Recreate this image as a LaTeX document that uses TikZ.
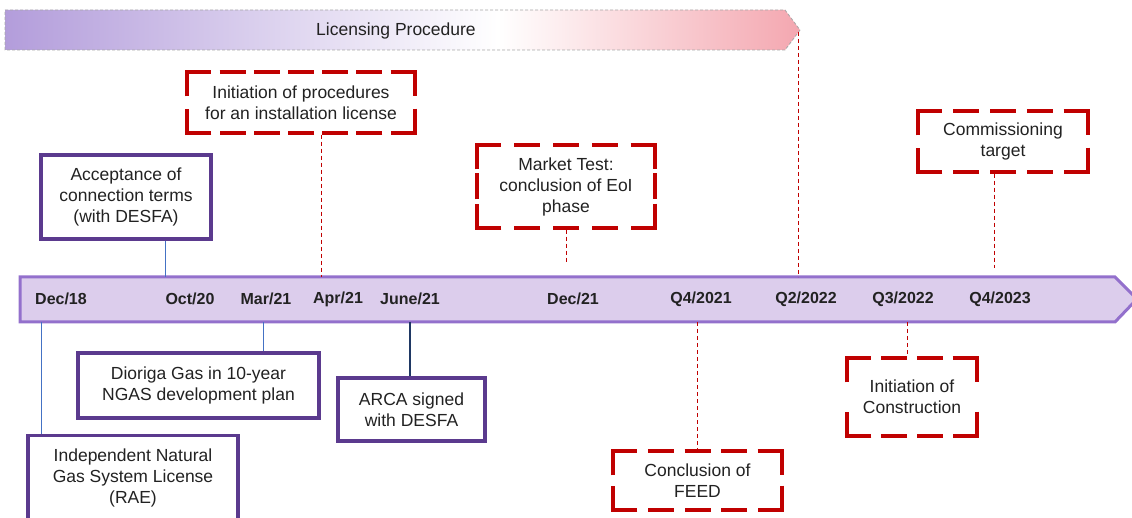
\documentclass[tikz,border=0pt]{standalone}
\usepackage{fontspec}
\setmainfont{Liberation Sans}
\definecolor{bandfill}{HTML}{DCCDEC}
\definecolor{bandline}{HTML}{9370CC}
\definecolor{boxpurple}{HTML}{5B3A8E}
\definecolor{boxred}{HTML}{C00000}
\definecolor{linkblue}{HTML}{4472C4}
\definecolor{linknavy}{HTML}{1F3864}
\definecolor{gradL}{HTML}{B39DDB}
\definecolor{gradR}{HTML}{F4A7B0}
\definecolor{txt}{HTML}{222222}
\pgfdeclarehorizontalshading{licshade}{100bp}{color(0bp)=(gradL); color(25bp)=(gradL); color(56bp)=(white); color(75bp)=(gradR); color(100bp)=(gradR)}
\tikzset{
  solidbox/.style={draw=boxpurple, line width=3.3pt, fill=white, align=center, inner sep=2pt, text=txt, font=\fontsize{17.5}{21}\selectfont},
  redbox/.style={fill=white, align=center, inner sep=2pt, outer sep=0pt, text=txt, font=\fontsize{17.5}{21}\selectfont},
  redside/.style={draw=boxred, line width=3.3pt, line cap=butt},
  datelbl/.style={font=\bfseries\fontsize{16}{18}\selectfont, text=txt, anchor=center},
  bluelink/.style={draw=linkblue, line width=1pt},
  navylink/.style={draw=linknavy, line width=1.3pt},
  redlink/.style={draw=boxred, line width=1pt, dash pattern=on 4pt off 3pt},
}
\newcommand\myrside[3]{%
  \pgfmathsetmacro\myrn{max(1,round(((#3)-26)/37))}%
  \pgfmathsetmacro\myrg{((#3)-(\myrn+1)*26)/\myrn}%
  \draw[redside, dash pattern=on 26pt off \myrg pt] (#1) -- (#2);
}
\newcommand\myredframe[3]{%
  \myrside{[xshift=-1.65pt]#1.north west}{[xshift=1.65pt]#1.north east}{#2+3.3}
  \myrside{[yshift=1.65pt]#1.north east}{[yshift=-1.65pt]#1.south east}{#3+3.3}
  \myrside{[xshift=1.65pt]#1.south east}{[xshift=-1.65pt]#1.south west}{#2+3.3}
  \myrside{[yshift=-1.65pt]#1.south west}{[yshift=1.65pt]#1.north west}{#3+3.3}
}
\begin{document}
\begin{tikzpicture}[x=1pt,y=-1pt]
\useasboundingbox (0,0) rectangle (1132,518);
\begin{scope}
\clip (0,0) rectangle (1132,518);
% licensing banner
\shade[shading=licshade] (5,10) -- (785,10) -- (800,30) -- (785,50) -- (5,50) -- cycle;
\draw[gray!70, line width=0.8pt, dash pattern=on 3pt off 2pt] (5,10) -- (785,10) -- (800,30) -- (785,50) -- (5,50) -- cycle;
\node[font=\fontsize{17.5}{20}\selectfont, text=txt] (lic) at (396,31) {Licensing Procedure};
\coordinate (lictip) at (798,32);
% timeline
\draw[fill=bandfill, draw=bandline, line width=3pt, line join=miter] (20,277) -- (1115,277) -- (1137,299) -- (1115,322) -- (20,322) -- cycle;
\coordinate (tltop) at (0,277);
\coordinate (tlbot) at (0,322);
\node[datelbl] (d1) at (61,299) {Dec/18};
\node[datelbl] (d2) at (190,299) {Oct/20};
\node[datelbl] (d3) at (266,299) {Mar/21};
\node[datelbl] (d4) at (338,299) {Apr/21};
\node[datelbl] (d5) at (410,299) {June/21};
\node[datelbl] (d6) at (573,299) {Dec/21};
\node[datelbl] (d7) at (701,299) {Q4/2021};
\node[datelbl] (d8) at (806,299) {Q2/2022};
\node[datelbl] (d9) at (903,299) {Q3/2022};
\node[datelbl] (d10) at (1000,299) {Q4/2023};
% boxes above
\node[solidbox, minimum width=170pt, minimum height=84pt] (acc) at (126,197) {Acceptance of\\connection terms\\(with DESFA)};
\node[redbox, minimum width=228pt, minimum height=61pt] (init) at (301,102.5) {Initiation of procedures\\for an installation license};
\myredframe{init}{228}{61}
\node[redbox, minimum width=178pt, minimum height=83pt] (mkt) at (566,186.5) {Market Test:\\conclusion of EoI\\phase};
\myredframe{mkt}{178}{83}
\node[redbox, minimum width=170pt, minimum height=61pt] (com) at (1003,141.5) {Commissioning\\target};
\myredframe{com}{170}{61}
% boxes below
\node[solidbox, minimum width=241pt, minimum height=65pt] (dio) at (198.5,385.5) {Dioriga Gas in 10-year\\NGAS development plan};
\node[solidbox, minimum width=147pt, minimum height=63pt] (arca) at (411.5,409.5) {ARCA signed\\with DESFA};
\node[solidbox, minimum width=210pt, minimum height=100pt, anchor=north] (ind) at (133,434) {};
\node[align=center, text=txt, font=\fontsize{17.5}{21}\selectfont, anchor=north] (indt) at (133,445) {Independent Natural\\Gas System License\\(RAE)};
\node[redbox, minimum width=169pt, minimum height=59pt] (feed) at (697.5,480.5) {Conclusion of\\FEED};
\myredframe{feed}{169}{59}
\node[redbox, minimum width=130pt, minimum height=78pt] (con) at (912,397) {Initiation of\\Construction};
\myredframe{con}{130}{78}
% connectors
\draw[bluelink] ([xshift=39pt]acc.south) -- ([xshift=39pt]acc.south |- tltop);
\draw[redlink] ([xshift=20pt,yshift=-1.65pt]init.south) -- ([xshift=20pt]init.south |- tltop);
\coordinate (mktend) at (566,262);
\draw[redlink] ([yshift=-1.65pt]mkt.south) -- (mktend);
\coordinate (comend) at (994,268);
\draw[redlink] ([xshift=-9pt,yshift=-1.65pt]com.south) -- (comend);
\draw[redlink] (lictip) -- (lictip |- tltop);
\draw[bluelink] ([xshift=64.5pt]dio.north |- tlbot) -- ([xshift=64.5pt]dio.north);
\draw[navylink] ([xshift=-1.5pt]arca.north |- tlbot) -- ([xshift=-1.5pt]arca.north);
\draw[bluelink] (41,322) -- (41,434);
\draw[redlink] (feed.north |- tlbot) -- ([yshift=1.65pt]feed.north);
\draw[redlink] ([xshift=-5pt]con.north |- tlbot) -- ([xshift=-5pt,yshift=1.65pt]con.north);
\end{scope}
\end{tikzpicture}
\end{document}
